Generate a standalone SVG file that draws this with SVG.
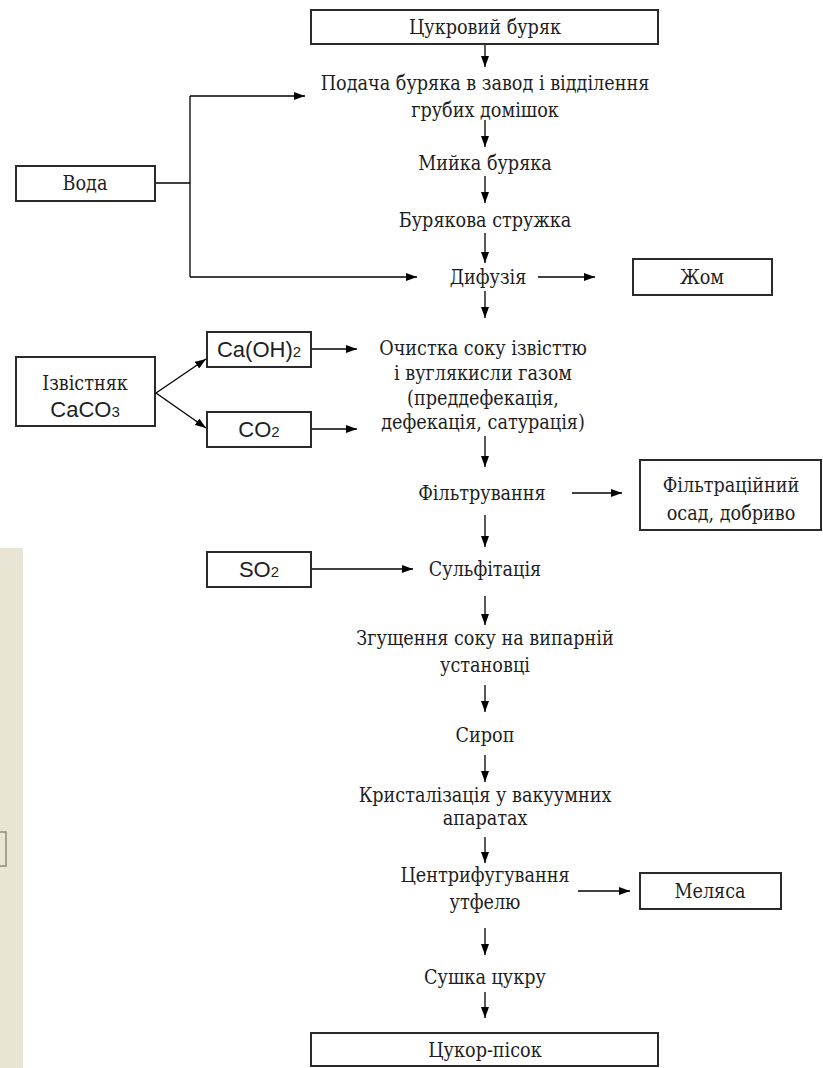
<svg xmlns="http://www.w3.org/2000/svg" width="823" height="1068" viewBox="0 0 823 1068">
<defs>
<marker id="ah" markerUnits="userSpaceOnUse" markerWidth="11" markerHeight="8" refX="11" refY="4" orient="auto">
<path d="M0,0 L11,4 L0,8 z" fill="#000"/>
</marker>
<style>
.box{fill:#fff;stroke:#2a2a2a;stroke-width:2}
.t{font-family:'DejaVu Serif Condensed','DejaVu Serif',serif;font-size:19.6px;fill:#1e1e1e;text-anchor:middle}
.s{font-family:'Liberation Sans',Arial,sans-serif;font-size:22px;fill:#1e1e1e;text-anchor:middle}
.sub{font-size:15px}
.c{fill:none;stroke:#000;stroke-width:1.3}
.a{fill:none;stroke:#000;stroke-width:1.3;marker-end:url(#ah)}
</style>
</defs>
<rect width="823" height="1068" fill="#fff"/>
<rect x="0" y="548" width="23" height="520" fill="#e8e5d5"/>
<rect x="-5" y="832" width="11" height="34" fill="none" stroke="#8f8c7c" stroke-width="1.5"/>

<g id="connectors">
<path class="a" d="M485,44 V67"/>
<path class="a" d="M485,120 V147"/>
<path class="a" d="M485,176 V203"/>
<path class="a" d="M485,233 V263"/>
<path class="a" d="M485,291 V318"/>
<path class="a" d="M485,436 V467"/>
<path class="a" d="M485,515 V547"/>
<path class="a" d="M485,596 V625"/>
<path class="a" d="M485,685 V712"/>
<path class="a" d="M485,755 V782"/>
<path class="a" d="M485,837 V863"/>
<path class="a" d="M485,928 V955"/>
<path class="a" d="M485,992 V1018"/>
<path class="c" d="M155,183 H190 M190,96 V277"/>
<path class="a" d="M190,96 H305"/>
<path class="a" d="M190,277 H417"/>
<path class="a" d="M538,277 H595"/>
<path class="a" d="M156,393 L206,359"/>
<path class="a" d="M156,393 L206,428"/>
<path class="a" d="M311,349 H357"/>
<path class="a" d="M311,429 H357"/>
<path class="a" d="M572,493 H622"/>
<path class="a" d="M311,569 H413"/>
<path class="a" d="M578,891 H630"/>
</g>

<g id="n-beet"><rect class="box" x="311" y="10" width="347" height="34"/><text class="t" x="485" y="34">Цукровий буряк</text></g>
<g id="n-feed"><text class="t" x="485" y="90">Подача буряка в завод і відділення</text><text class="t" x="485" y="117">грубих домішок</text></g>
<g id="n-wash"><text class="t" x="485" y="170">Мийка буряка</text></g>
<g id="n-chips"><text class="t" x="485" y="227">Бурякова стружка</text></g>
<g id="n-diff"><text class="t" x="488" y="284">Дифузія</text></g>
<g id="n-water"><rect class="box" x="16" y="166" width="139" height="35"/><text class="t" x="85" y="190">Вода</text></g>
<g id="n-pulp"><rect class="box" x="633" y="259" width="139" height="36"/><text class="t" x="702" y="284">Жом</text></g>
<g id="n-lime"><rect class="box" x="16" y="357" width="139" height="69"/><text class="t" x="85" y="390">Ізвістняк</text><text class="s" x="85" y="417">CaCO<tspan class="sub">3</tspan></text></g>
<g id="n-caoh"><rect class="box" x="207" y="332" width="104" height="35"/><text class="s" x="259" y="357">Ca(OH)<tspan class="sub">2</tspan></text></g>
<g id="n-co2"><rect class="box" x="207" y="412" width="104" height="35"/><text class="s" x="259" y="437">CO<tspan class="sub">2</tspan></text></g>
<g id="n-clean"><text class="t" x="483" y="355">Очистка соку ізвісттю</text><text class="t" x="483" y="380">і вуглякисли газом</text><text class="t" x="483" y="405">(преддефекація,</text><text class="t" x="483" y="429">дефекація, сатурація)</text></g>
<g id="n-filt"><text class="t" x="482" y="500">Фільтрування</text></g>
<g id="n-cake"><rect class="box" x="640" y="460" width="181" height="70"/><text class="t" x="731" y="492">Фільтраційний</text><text class="t" x="731" y="520">осад, добриво</text></g>
<g id="n-so2"><rect class="box" x="207" y="552" width="104" height="35"/><text class="s" x="259" y="577">SO<tspan class="sub">2</tspan></text></g>
<g id="n-sulf"><text class="t" x="485" y="576">Сульфітація</text></g>
<g id="n-evap"><text class="t" x="485" y="645">Згущення соку на випарній</text><text class="t" x="485" y="672">установці</text></g>
<g id="n-syrup"><text class="t" x="485" y="742">Сироп</text></g>
<g id="n-cryst"><text class="t" x="485" y="802">Кристалізація у вакуумних</text><text class="t" x="485" y="825">апаратах</text></g>
<g id="n-centr"><text class="t" x="485" y="882">Центрифугування</text><text class="t" x="485" y="909">утфелю</text></g>
<g id="n-molasses"><rect class="box" x="640" y="873" width="141" height="36"/><text class="t" x="710" y="898">Меляса</text></g>
<g id="n-dry"><text class="t" x="485" y="984">Сушка цукру</text></g>
<g id="n-sugar"><rect class="box" x="311" y="1033" width="347" height="33"/><text class="t" x="485" y="1057">Цукор-пісок</text></g>
</svg>
